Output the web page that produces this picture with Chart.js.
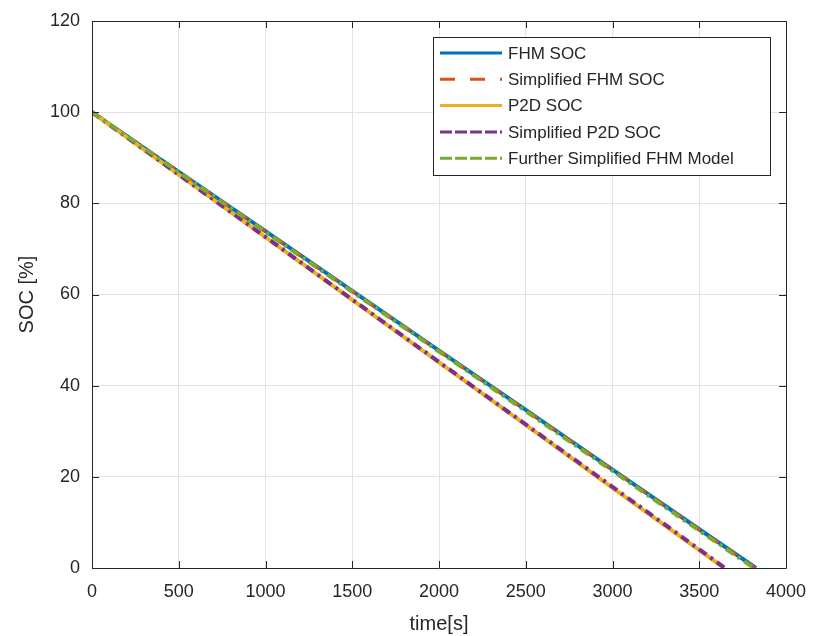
<!DOCTYPE html>
<html><head><meta charset="utf-8">
<script src="https://cdn.jsdelivr.net/npm/chart.js@4/dist/chart.umd.min.js"></script>
<style>html,body{margin:0;padding:0;background:#fff}#wrap{width:814px;height:636px}</style>
</head><body><div id="wrap"><canvas id="c" width="814" height="636"></canvas></div>
<script>
// Data
const fhmTime = [0, 500, 1000, 1500, 2000, 2500, 3000, 3500, 3827];
const fhmSoc  = [100, 86.9, 73.9, 60.8, 47.7, 34.7, 21.6, 8.5, 0];
const simpFhmTime = [0, 500, 1000, 1500, 2000, 2500, 3000, 3500, 3822];
const simpFhmSoc  = [100, 86.9, 73.8, 60.7, 47.6, 34.6, 21.5, 8.4, 0];
const p2dTime = [0, 500, 1000, 1500, 2000, 2500, 3000, 3500, 3643];
const p2dSoc  = [100, 86.3, 72.6, 58.8, 45.1, 31.4, 17.6, 3.9, 0];
const simpP2dTime = [0, 500, 1000, 1500, 2000, 2500, 3000, 3500, 3648];
const simpP2dSoc  = [100, 86.3, 72.6, 58.9, 45.2, 31.5, 17.8, 4.1, 0];
const furtherTime = [0, 500, 1000, 1500, 2000, 2500, 3000, 3500, 3815];
const furtherSoc  = [100, 86.8, 73.7, 60.6, 47.5, 34.4, 21.3, 8.2, 0];
const seriesNames = ['FHM SOC', 'Simplified FHM SOC', 'P2D SOC', 'Simplified P2D SOC', 'Further Simplified FHM Model'];
const xTicks = [0, 500, 1000, 1500, 2000, 2500, 3000, 3500, 4000];
const yTicks = [0, 20, 40, 60, 80, 100, 120];

const pts = (t, v) => t.map((x, i) => ({x: x, y: v[i]}));
const FONT = 'Liberation Sans, Arial, sans-serif';
const TXT = '#262626';

const framePlugin = {
  id: 'frame',
  afterDatasetsDraw(chart) {
    const ctx = chart.ctx, a = chart.chartArea;
    const xs = chart.scales.x, ys = chart.scales.y;
    ctx.save();
    ctx.strokeStyle = '#262626';
    ctx.lineWidth = 1;
    ctx.beginPath();
    ctx.rect(Math.round(a.left) + 0.5, Math.round(a.top) + 0.5, Math.round(a.right - a.left), Math.round(a.bottom - a.top));
    ctx.stroke();
    const tl = 7;
    ctx.beginPath();
    xTicks.forEach(v => {
      const px = Math.round(xs.getPixelForValue(v)) + 0.5;
      ctx.moveTo(px, a.bottom); ctx.lineTo(px, a.bottom - tl);
      ctx.moveTo(px, a.top); ctx.lineTo(px, a.top + tl);
    });
    yTicks.forEach(v => {
      const py = Math.round(ys.getPixelForValue(v)) + 0.5;
      ctx.moveTo(a.left, py); ctx.lineTo(a.left + tl, py);
      ctx.moveTo(a.right, py); ctx.lineTo(a.right - tl, py);
    });
    ctx.stroke();

    // Legend box
    const bx = 433, by = 37, bw = 337, bh = 138;
    ctx.fillStyle = '#fff';
    ctx.fillRect(bx, by, bw, bh);
    ctx.strokeStyle = '#262626';
    ctx.strokeRect(bx + 0.5, by + 0.5, bw, bh);
    ctx.font = '17px ' + FONT;
    ctx.textBaseline = 'middle';
    ctx.textAlign = 'left';
    chart.data.datasets.forEach((ds, i) => {
      const y = by + 16 + i * 26.3;
      ctx.strokeStyle = ds.borderColor;
      ctx.lineWidth = 3;
      ctx.setLineDash(ds.legendDash || []);
      ctx.beginPath();
      ctx.moveTo(440, y); ctx.lineTo(502, y);
      ctx.stroke();
      ctx.setLineDash([]);
      ctx.fillStyle = TXT;
      ctx.fillText(ds.label, 508, y + 1);
    });
    ctx.restore();
  }
};

new Chart(document.getElementById('c'), {
  type: 'line',
  data: {
    datasets: [
      {label: seriesNames[0], data: pts(fhmTime, fhmSoc), borderColor: '#0072BD', borderWidth: 4, order: 4},
      {label: seriesNames[1], data: pts(simpFhmTime, simpFhmSoc), borderColor: '#D95319', borderWidth: 3.5, borderDash: [12, 10], legendDash: [15, 15], order: 3},
      {label: seriesNames[2], data: pts(p2dTime, p2dSoc), borderColor: '#EDB120', borderWidth: 4, order: 2},
      {label: seriesNames[3], data: pts(simpP2dTime, simpP2dSoc), borderColor: '#7E2F8E', borderWidth: 4, borderDash: [9, 5, 3, 5], legendDash: [12, 3], order: 1},
      {label: seriesNames[4], data: pts(furtherTime, furtherSoc), borderColor: '#77AC30', borderWidth: 4, borderDash: [9, 5, 3, 5], legendDash: [12, 3], order: 0}
    ].map(d => Object.assign(d, {pointRadius: 0, fill: false, tension: 0, borderCapStyle: 'butt'}))
  },
  options: {
    responsive: false,
    animation: false,
    events: [],
    layout: {padding: {top: 21, right: 28, left: 0, bottom: 0}},
    plugins: {legend: {display: false}, tooltip: {enabled: false}},
    scales: {
      x: {
        type: 'linear', min: 0, max: 4000,
        afterBuildTicks: s => { s.ticks = xTicks.map(v => ({value: v})); },
        afterFit: s => { s.height = 68; s.paddingLeft = 0; s.paddingRight = 0; },
        grid: {color: '#e3e3e3', drawTicks: false},
        border: {display: false},
        ticks: {color: TXT, font: {family: FONT, size: 18}, padding: 13, maxRotation: 0, callback: v => String(v)},
        title: {display: true, text: 'time[s]', color: TXT, font: {family: FONT, size: 20}, padding: {top: 3, bottom: 0}}
      },
      y: {
        type: 'linear', min: 0, max: 120,
        afterBuildTicks: s => { s.ticks = yTicks.map(v => ({value: v})); },
        afterFit: s => { s.width = 92; s.paddingTop = 0; s.paddingBottom = 0; },
        grid: {color: '#e3e3e3', drawTicks: false},
        border: {display: false},
        ticks: {color: TXT, font: {family: FONT, size: 18}, padding: 12, callback: v => String(v)},
        title: {display: true, text: 'SOC [%]', color: TXT, font: {family: FONT, size: 20}, padding: {top: 15, bottom: 0}}
      }
    }
  },
  plugins: [framePlugin]
});
</script></body></html>
